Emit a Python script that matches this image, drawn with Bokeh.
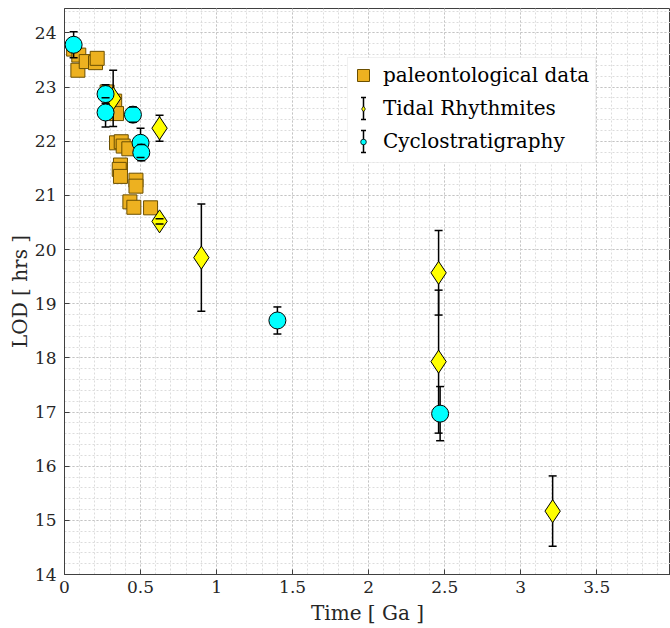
import math
from bokeh.plotting import figure
from bokeh.models import (ColumnDataSource, Range1d, Legend, LegendItem,
                          SingleIntervalTicker, BoxAnnotation)
from bokeh.embed import file_html
from bokeh.resources import INLINE

# ---- data ----
paleo_time = [0.06, 0.094, 0.088, 0.143, 0.204, 0.215, 0.28, 0.33, 0.342,
              0.342, 0.373, 0.386, 0.423, 0.368, 0.36, 0.368, 0.47, 0.47,
              0.43, 0.456, 0.566]
paleo_lod = [23.70, 23.59, 23.31, 23.47, 23.45, 23.53, 22.91, 22.74, 22.51,
             21.97, 21.99, 21.91, 21.86, 21.56, 21.48, 21.35, 21.28, 21.17,
             20.88, 20.78, 20.77]

tidal_time = [0.32, 0.625, 0.625, 0.90, 2.46, 2.46, 3.21]
tidal_lod = [22.79, 22.24, 20.52, 19.85, 19.57, 17.93, 15.17]
tidal_err = [0.52, 0.24, 0.05, 0.99, 0.78, 1.32, 0.65]

cyclo_time = [0.06, 0.27, 0.27, 0.45, 0.50, 0.505, 1.40, 2.47]
cyclo_lod = [23.78, 22.87, 22.53, 22.49, 21.97, 21.79, 18.69, 16.97]
cyclo_err = [0.24, 0.17, 0.27, 0.14, 0.27, 0.15, 0.25, 0.50]

x_ticks_interval = 0.5
y_ticks_interval = 1

FONT = "DejaVu Serif"
TXT = "#262626"

p = figure(width=670, height=628, output_backend="svg", toolbar_location=None,
           x_range=Range1d(0, 3.985), y_range=Range1d(14, 24.45),
           min_border_left=64, min_border_right=0, min_border_top=8,
           min_border_bottom=54)
p.background_fill_color = "white"
p.border_fill_color = "white"
p.outline_line_color = "#404040"
p.outline_line_width = 1
# range used only by the legend-icon proxies (keeps them out of view)
p.extra_y_ranges = {"legend_only": Range1d(-100, -99)}

p.xaxis.ticker = SingleIntervalTicker(interval=x_ticks_interval, num_minor_ticks=5)
p.yaxis.ticker = SingleIntervalTicker(interval=y_ticks_interval, num_minor_ticks=5)

for ax in (p.xaxis[0], p.yaxis[0]):
    ax.axis_line_color = "#404040"
    ax.major_tick_line_color = "#404040"
    ax.major_tick_in = 5
    ax.major_tick_out = 0
    ax.minor_tick_line_color = None
    ax.major_label_text_font = FONT
    ax.major_label_text_font_size = "17px"
    ax.major_label_text_color = TXT
    ax.axis_label_text_font = FONT
    ax.axis_label_text_font_size = "20px"
    ax.axis_label_text_font_style = "normal"
    ax.axis_label_text_color = TXT

p.xaxis.axis_label = "Time [ Ga ]"
p.yaxis.axis_label = "LOD [ hrs ]"
p.xaxis.major_label_standoff = 2
p.xaxis.axis_label_standoff = 5
p.yaxis.major_label_standoff = 4
p.yaxis.axis_label_standoff = 0

for g in (p.xgrid[0], p.ygrid[0]):
    g.grid_line_color = "#c4c4c4"
    g.grid_line_dash = "2 2"
    g.grid_line_width = 1
    g.minor_grid_line_color = "#dcdcdc"
    g.minor_grid_line_dash = "2 2"
    g.minor_grid_line_width = 1

# ---- paleontological data ----
r_paleo = p.scatter(paleo_time, paleo_lod, marker="square", size=14,
                    fill_color="#EDB120", line_color="#6b4f00", line_width=1)

# ---- tidal rhythmites ----
tsrc = ColumnDataSource(dict(
    x=tidal_time, y=tidal_lod,
    lo=[v - e for v, e in zip(tidal_lod, tidal_err)],
    hi=[v + e for v, e in zip(tidal_lod, tidal_err)]))
p.segment(x0="x", y0="lo", x1="x", y1="hi", source=tsrc,
          line_color="black", line_width=1.5)
p.scatter("x", "y", source=tsrc, marker="diamond", size=23,
          fill_color="#FFFF00", line_color="black", line_width=1)
p.scatter("x", "lo", source=tsrc, marker="dash", size=8,
          line_color="black", line_width=1.5)
p.scatter("x", "hi", source=tsrc, marker="dash", size=8,
          line_color="black", line_width=1.5)

# ---- cyclostratigraphy ----
csrc = ColumnDataSource(dict(
    x=cyclo_time, y=cyclo_lod,
    lo=[v - e for v, e in zip(cyclo_lod, cyclo_err)],
    hi=[v + e for v, e in zip(cyclo_lod, cyclo_err)]))
p.segment(x0="x", y0="lo", x1="x", y1="hi", source=csrc,
          line_color="black", line_width=1.5)
p.scatter("x", "y", source=csrc, marker="circle", size=17,
          fill_color="#00FFFF", line_color="black", line_width=1)
p.scatter("x", "lo", source=csrc, marker="dash", size=8,
          line_color="black", line_width=1.5)
p.scatter("x", "hi", source=csrc, marker="dash", size=8,
          line_color="black", line_width=1.5)

# ---- legend icons (proxies on an out-of-view range) ----
def proxy(src, **kw):
    return p.scatter("x", "y", source=src, y_range_name="legend_only", **kw)

lt_mk = proxy(tsrc, marker="diamond", size=9, fill_color="#FFFF00",
              line_color="black", line_width=0.8)
lc_mk = proxy(csrc, marker="circle", size=6, fill_color="#00FFFF",
              line_color="black", line_width=0.8)

# ---- legend box (canvas pixels) ----
BOX_L, BOX_R, BOX_T, BOX_B = 347, 595, 57, 162
ICON_X = 363
ROWS = [75, 108, 141]
CANVAS = dict(left_units="canvas", right_units="canvas",
              top_units="canvas", bottom_units="canvas")
p.add_layout(BoxAnnotation(left=BOX_L, right=BOX_R, top=BOX_T, bottom=BOX_B,
                           fill_color="white", fill_alpha=1,
                           line_color="#cfcfcf", line_width=1,
                           level="annotation", **CANVAS))

# error-bar icons for the two error-bar series
for cy in ROWS[1:]:
    for (l, r, t, b) in [(ICON_X - 0.75, ICON_X + 0.75, cy - 11, cy + 11),
                         (ICON_X - 2.5, ICON_X + 2.5, cy - 11.75, cy - 10.25),
                         (ICON_X - 2.5, ICON_X + 2.5, cy + 10.25, cy + 11.75)]:
        p.add_layout(BoxAnnotation(left=l, right=r, top=t, bottom=b,
                                   fill_color="black", fill_alpha=1,
                                   line_color=None, level="annotation",
                                   **CANVAS))

FRAME_L, FRAME_B = 64, 574
LABEL_X = 383

def make_legend(items, glyph_w, glyph_h, top_center):
    lg = Legend(items=items)
    lg.label_text_font = FONT
    lg.label_text_font_size = "20px"
    lg.label_text_color = "black"
    lg.border_line_color = None
    lg.background_fill_alpha = 0
    lg.glyph_width = glyph_w
    lg.glyph_height = glyph_h
    lg.spacing = 33 - glyph_h
    lg.padding = 0
    lg.margin = 0
    lg.label_standoff = int(LABEL_X - (ICON_X + glyph_w // 2))
    n = len(items)
    left = ICON_X - glyph_w // 2
    bottom = top_center - glyph_h / 2 + n * glyph_h + (n - 1) * (33 - glyph_h)
    lg.location = (left - FRAME_L, FRAME_B - bottom)
    return lg

p.add_layout(make_legend(
    [LegendItem(label="paleontological data", renderers=[r_paleo])],
    30, 30, ROWS[0]), "center")
p.add_layout(make_legend(
    [LegendItem(label="Tidal Rhythmites", renderers=[lt_mk]),
     LegendItem(label="Cyclostratigraphy", renderers=[lc_mk])],
    14, 27, ROWS[1]), "center")

open("out.html", "w").write(file_html(p, INLINE))
